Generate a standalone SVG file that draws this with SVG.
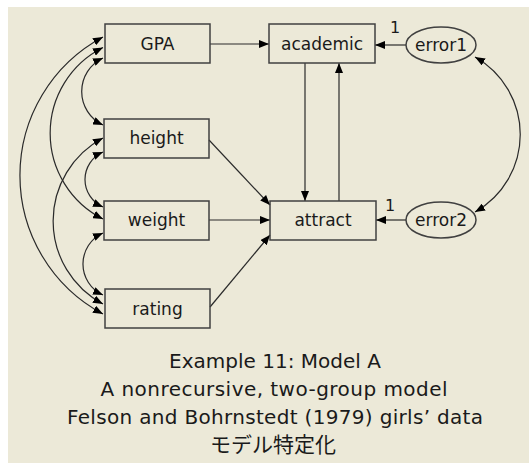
<svg xmlns="http://www.w3.org/2000/svg" width="529" height="464" viewBox="0 0 529 464">
<style>
.box{fill:none;stroke:#404040;stroke-width:1.5}
.lbl{font-family:"DejaVu Sans","Liberation Sans",sans-serif;font-size:17px;fill:#1a1a1a;text-anchor:middle}
.one{font-family:"DejaVu Sans","Liberation Sans",sans-serif;font-size:16px;fill:#1a1a1a;text-anchor:middle}
.cap{font-family:"DejaVu Sans","Liberation Sans","Noto Sans CJK JP",sans-serif;font-size:20px;fill:#1a1a1a;text-anchor:middle}
.c{fill:none;stroke:#2a2a2a;stroke-width:1.2}
.a{marker-end:url(#ah)}
.d{marker-start:url(#ah);marker-end:url(#ah)}
</style>
<defs>
<marker id="ah" markerUnits="userSpaceOnUse" markerWidth="10" markerHeight="8" refX="10" refY="4" orient="auto-start-reverse" viewBox="0 0 10 8">
<path d="M0,0 L10,4 L0,8 z" fill="#000"/>
</marker>
</defs>
<rect x="0" y="0" width="529" height="464" fill="#fff"/>
<rect x="8" y="7" width="521" height="456" fill="#ECE9D8"/>

<g id="connectors">
<line class="c a" x1="210" y1="44" x2="269" y2="44"/>
<line class="c a" x1="406" y1="45" x2="375" y2="45"/>
<line class="c a" x1="406" y1="220" x2="376" y2="220"/>
<line class="c a" x1="209" y1="220" x2="270" y2="220"/>
<line class="c a" x1="209" y1="140" x2="270" y2="205"/>
<line class="c a" x1="210" y1="307" x2="270" y2="235"/>
<line class="c a" x1="305" y1="63" x2="305" y2="201"/>
<line class="c a" x1="339" y1="201" x2="339" y2="63"/>
<path class="c d" d="M103,37 A157,157 0 0 0 103,314"/>
<path class="c d" d="M103,47.5 A96,96 0 0 0 103,219"/>
<path class="c d" d="M103,58 A37,37 0 0 0 103,125"/>
<path class="c d" d="M103,138 A94,94 0 0 0 103,304"/>
<path class="c d" d="M103,152 A30,30 0 0 0 103,207"/>
<path class="c d" d="M103,233 A34,34 0 0 0 103,295"/>
<path class="c d" d="M475,57 A89,89 0 0 1 475,212"/>
</g>

<g id="GPA"><rect class="box" x="105" y="24" width="105" height="39"/><text class="lbl" x="157.5" y="50">GPA</text></g>
<g id="height"><rect class="box" x="104" y="119" width="105" height="39"/><text class="lbl" x="156.5" y="144">height</text></g>
<g id="weight"><rect class="box" x="104" y="201" width="105" height="39"/><text class="lbl" x="156.5" y="226">weight</text></g>
<g id="rating"><rect class="box" x="105" y="289" width="105" height="39"/><text class="lbl" x="157.5" y="315">rating</text></g>
<g id="academic"><rect class="box" x="269" y="24" width="106" height="39"/><text class="lbl" x="322" y="50">academic</text></g>
<g id="attract"><rect class="box" x="270" y="201" width="106" height="39"/><text class="lbl" x="323" y="226">attract</text></g>
<g id="error1"><ellipse class="box" cx="441" cy="45" rx="35" ry="18"/><text class="lbl" x="441" y="51">error1</text></g>
<g id="error2"><ellipse class="box" cx="441" cy="220" rx="35" ry="18"/><text class="lbl" x="441" y="226">error2</text></g>

<g id="labels">
<text class="one" x="395" y="33">1</text>
<text class="one" x="390" y="211">1</text>
</g>

<g id="caption">
<text class="cap" x="275" y="368">Example 11: Model A</text>
<text class="cap" x="274" y="396" textLength="347" lengthAdjust="spacing">A nonrecursive, two-group model</text>
<text class="cap" x="275" y="424" textLength="416" lengthAdjust="spacing">Felson and Bohrnstedt (1979) girls’ data</text>
<text class="cap" x="273" y="452" style="font-family:'Noto Sans CJK JP',sans-serif;font-size:21px">モデル特定化</text>
</g>
</svg>
